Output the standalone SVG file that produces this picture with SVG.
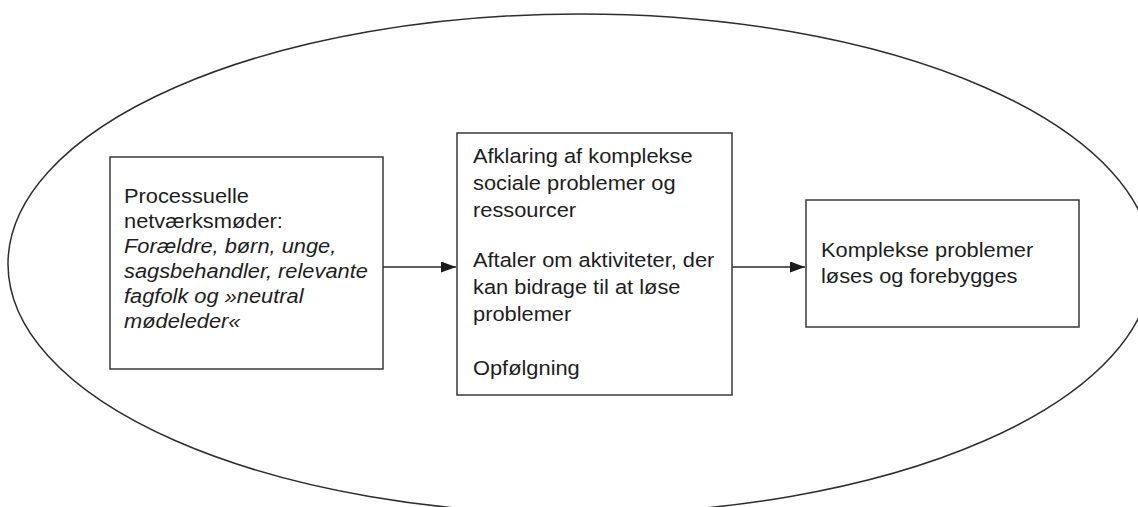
<svg xmlns="http://www.w3.org/2000/svg" width="1138" height="507" viewBox="0 0 1138 507">
  <style>
    .box { fill: #ffffff; stroke: #3a3a3a; stroke-width: 1.5; }
    .conn { stroke: #2a2a2a; stroke-width: 1.5; fill: none; }
    .lbl { font-family: "Liberation Sans", Arial, Helvetica, sans-serif; font-size: 19.5px; fill: #1e1e1e; }
    .it { font-style: italic; }
  </style>
  <defs>
    <marker id="arrow" viewBox="0 0 15 11" refX="15" refY="5.5" markerWidth="15" markerHeight="11" markerUnits="userSpaceOnUse" orient="auto">
      <path d="M0,0 L15,5.5 L0,11 Z" fill="#1a1a1a"/>
    </marker>
  </defs>
  <rect width="1138" height="507" fill="#ffffff"/>
  <g id="outer-ellipse">
    <ellipse cx="580" cy="264" rx="572" ry="250" fill="none" stroke="#2e2e2e" stroke-width="1.5"/>
  </g>
  <g id="connectors">
    <line class="conn" x1="383" y1="267" x2="456" y2="267" marker-end="url(#arrow)"/>
    <line class="conn" x1="732" y1="267" x2="805" y2="267" marker-end="url(#arrow)"/>
  </g>
  <g id="node-netvaerk">
    <rect class="box" x="110" y="157" width="273" height="212"/>
    <g transform="translate(124,0) scale(1.12,1)">
      <text class="lbl" x="0" y="203">Processuelle</text>
      <text class="lbl" x="0" y="228">netværksmøder:</text>
      <text class="lbl it" x="0" y="253">Forældre, børn, unge,</text>
      <text class="lbl it" x="0" y="278">sagsbehandler, relevante</text>
      <text class="lbl it" x="0" y="303">fagfolk og »neutral</text>
      <text class="lbl it" x="0" y="328">mødeleder«</text>
    </g>
  </g>
  <g id="node-afklaring">
    <rect class="box" x="457" y="133" width="275" height="262"/>
    <g transform="translate(473,0) scale(1.12,1)">
      <text class="lbl" x="0" y="163">Afklaring af komplekse</text>
      <text class="lbl" x="0" y="190">sociale problemer og</text>
      <text class="lbl" x="0" y="217">ressourcer</text>
      <text class="lbl" x="0" y="267">Aftaler om aktiviteter, der</text>
      <text class="lbl" x="0" y="294">kan bidrage til at løse</text>
      <text class="lbl" x="0" y="321">problemer</text>
      <text class="lbl" x="0" y="375">Opfølgning</text>
    </g>
  </g>
  <g id="node-loeses">
    <rect class="box" x="806" y="200" width="273" height="127"/>
    <g transform="translate(821,0) scale(1.12,1)">
      <text class="lbl" x="0" y="257">Komplekse problemer</text>
      <text class="lbl" x="0" y="283">løses og forebygges</text>
    </g>
  </g>
</svg>
